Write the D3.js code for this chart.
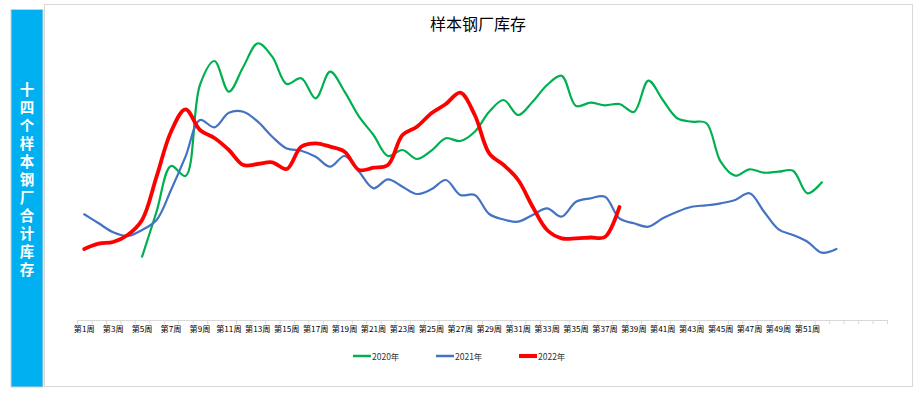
<!DOCTYPE html>
<html>
<head>
<meta charset="utf-8">
<script src="https://cdn.jsdelivr.net/npm/d3@7/dist/d3.min.js"></script>
<style>
  html, body { margin: 0; padding: 0; background: #fff; }
  svg { display: block; }
</style>
</head>
<body>
<svg id="chart" width="921" height="394"></svg>
<script>
// ---- Data ----
const weekLabels = ["第1周","第2周","第3周","第4周","第5周","第6周","第7周","第8周","第9周","第10周",
  "第11周","第12周","第13周","第14周","第15周","第16周","第17周","第18周","第19周","第20周",
  "第21周","第22周","第23周","第24周","第25周","第26周","第27周","第28周","第29周","第30周",
  "第31周","第32周","第33周","第34周","第35周","第36周","第37周","第38周","第39周","第40周",
  "第41周","第42周","第43周","第44周","第45周","第46周","第47周","第48周","第49周","第50周",
  "第51周","第52周","","","",""];

const series2020 = [null,null,null,null,63.3,108.3,154,144,235,259,
  228.3,253.3,276.7,263.3,236,241.7,221.7,248.3,228.3,203.3,
  185,164,170,161,169.3,181.7,179,188.3,208.3,220,
  205,218.3,235,244.3,214,217.3,214.7,216,208,239.3,
  220,201.7,198.3,197,158.3,144.3,150.7,147.3,148.3,149.3,
  126.7,137.7];

const series2021 = [105.7,96.7,87.7,84,90,100,130,163.3,200,192.7,
  207.3,208.3,198.3,183.3,171.5,169.3,163.3,153.3,164,148.3,
  131.7,140.7,133.3,126,130.7,140,125,125,106,100.5,
  98.3,105,111.7,103.3,118.3,121.7,123.3,101.7,96.7,93.3,
  101.7,108.3,113.3,114.7,116.7,120,126.7,108.3,90.7,85,
  78.3,67.3,71];

const series2022 = [71,76.3,78,85,100,143.3,188.3,210.7,190,182,
  170,155,156,157.7,151,173.3,176.7,173.3,168.3,150,
  152.3,155,185,193.3,206.7,216,227.3,205,166.7,155,
  140,113.3,90,81.7,81.7,82.5,83,113];

const seriesNames = ["2020年","2021年","2022年"];
const seriesColors = ["#00B050","#4472C4","#FF0000"];
const seriesWidths = [2.2,2.2,3.8];
const titleText = "样本钢厂库存";
const sideText = "十四个样本钢厂合计库存";

// ---- Drawing ----
const svg = d3.select("#chart");

// side panel
svg.append("rect").attr("x", 11).attr("y", 9.5).attr("width", 32).attr("height", 377.5)
  .attr("fill", "#00B0F0").attr("stroke", "#d0d0d0").attr("stroke-width", 1);
svg.append("text")
  .attr("x", 27).attr("y", 82)
  .style("writing-mode", "vertical-rl")
  .style("letter-spacing", "3.5px")
  .attr("fill", "#fff").attr("font-size", 14.5).attr("font-weight", "bold")
  .attr("font-family", "'Noto Sans CJK SC', sans-serif")
  .text(sideText);

// chart border
svg.append("rect").attr("x", 44.5).attr("y", 4.5).attr("width", 868).attr("height", 382)
  .attr("fill", "#fff").attr("stroke", "#d9d9d9").attr("stroke-width", 1);

// title
svg.append("text").attr("x", 478).attr("y", 23).attr("text-anchor", "middle")
  .attr("dominant-baseline", "central")
  .attr("font-size", 16).attr("font-family", "'Noto Sans CJK SC', sans-serif")
  .attr("fill", "#000").text(titleText);

// scales
const idx = d3.range(weekLabels.length);
const x = d3.scaleBand().domain(idx).range([77, 887]).padding(0);
const y = d3.scaleLinear().domain([0, 290]).range([320, 30]);
const cx = i => x(i) + x.bandwidth() / 2;

// axis
const axis = d3.axisBottom(x)
  .tickValues(idx.filter(i => i % 2 === 0 && weekLabels[i] !== ""))
  .tickFormat(i => weekLabels[i]).tickSize(0).tickPadding(6);
const gx = svg.append("g").attr("transform", "translate(0,320)").call(axis);
gx.select(".domain").attr("stroke", "#d9d9d9");
gx.selectAll("text").attr("font-size", 8.2)
  .attr("font-family", "'Noto Sans CJK SC', sans-serif").attr("fill", "#000");
// boundary ticks
const bounds = idx.map(i => x(i)).concat([x.range()[1]]);
gx.append("g").selectAll("line").data(bounds).join("line")
  .attr("x1", d => d + 0.5).attr("x2", d => d + 0.5).attr("y1", 0).attr("y2", 4)
  .attr("stroke", "#d9d9d9");

// lines
const allSeries = [series2020, series2021, series2022];
const line = d3.line()
  .defined(d => d.v != null)
  .x(d => cx(d.i)).y(d => y(d.v))
  .curve(d3.curveCatmullRom.alpha(0.5));
allSeries.forEach((s, k) => {
  const pts = s.map((v, i) => ({ i, v }));
  svg.append("path").datum(pts).attr("d", line)
    .attr("fill", "none").attr("stroke", seriesColors[k])
    .attr("stroke-width", seriesWidths[k]).attr("stroke-linejoin", "round")
    .attr("stroke-linecap", "round");
});

// legend
const legendX = [353, 436, 519];
const lg = svg.append("g");
seriesNames.forEach((n, k) => {
  lg.append("line").attr("x1", legendX[k]).attr("x2", legendX[k] + 18)
    .attr("y1", 356).attr("y2", 356)
    .attr("stroke", seriesColors[k]).attr("stroke-width", seriesWidths[k] + 0.3);
  lg.append("text").attr("x", legendX[k] + 19).attr("y", 356)
    .attr("dominant-baseline", "central")
    .attr("font-size", 8.5).attr("font-family", "'Noto Sans CJK SC', sans-serif")
    .attr("fill", "#333").text(n);
});
</script>
</body>
</html>
